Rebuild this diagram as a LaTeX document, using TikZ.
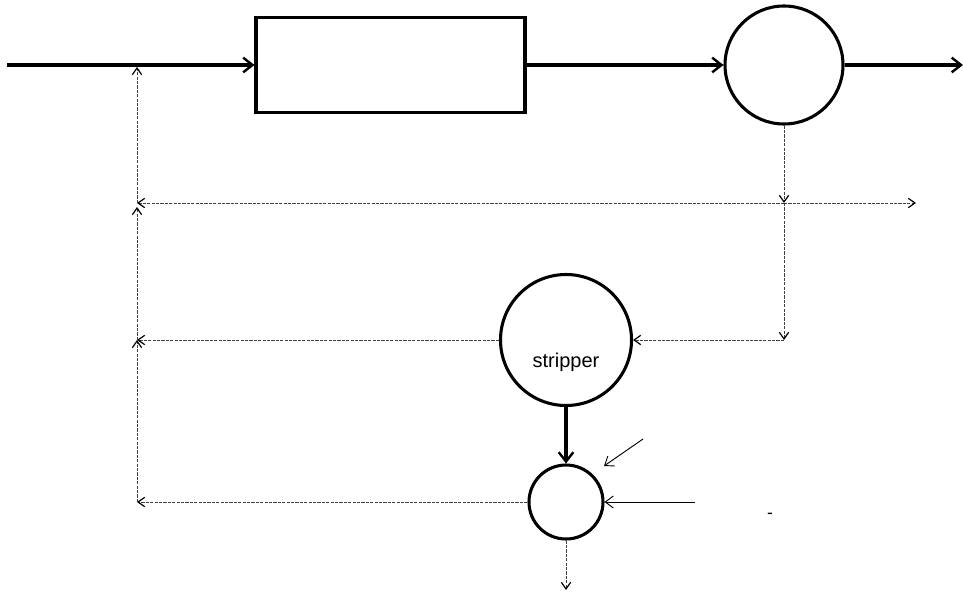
\documentclass[tikz,border=0pt]{standalone}
\usepackage{fontspec}
\setmainfont{Liberation Sans}
\usetikzlibrary{arrows.meta}
\begin{document}
\begin{tikzpicture}[x=0.75pt,y=-0.75pt,
  flow/.style={line width=2.3pt,-{Straight Barb[length=7pt,width=11pt,line width=1.8pt]}},
  thin/.style={line width=0.7pt,-{Straight Barb[length=6pt,width=9pt,line width=0.7pt]}},
  recyc/.style={line width=0.75pt,black!75,dash pattern=on 2.4pt off 0.9pt,
    -{Straight Barb[length=5pt,width=7pt,line width=0.9pt,black]}},
  unit/.style={draw,line width=2.3pt,inner sep=0pt},
  vessel/.style={draw,circle,line width=2.3pt,inner sep=0pt}]
\useasboundingbox (0,0) rectangle (963,592);

% main units
\node[unit,minimum width=269*0.75pt,minimum height=95*0.75pt] (reactor) at (390.5,65) {};
\node[vessel,minimum size=118*0.75pt] (sep) at (784,65) {};
\node[vessel,minimum size=131*0.75pt] (strip) at (566,340) {};
\node[font=\fontsize{15}{17}\selectfont] (striplabel) at (566,362) {stripper};
\node[vessel,minimum size=74*0.75pt] (mix) at (566,502) {};

% reference points of the lines
\coordinate (feed) at (7,65);
\coordinate (prod) at (963,65);
\coordinate (j0) at (137,67);
\coordinate (j1) at (137,203);
\coordinate (j1up) at (137,207);
\coordinate (j2) at (137,340);
\coordinate (j3) at (137,502);
\coordinate (s1) at (784,203);
\coordinate (s2) at (784,340);
\coordinate (purge) at (916,203);
\coordinate (feedin) at (695,502);
\coordinate (diagin) at (643,439);
\coordinate (diagend) at (604,466);
\coordinate (bottom) at (566,590);

% main flow line
\draw[flow] (feed) -- (reactor.west);
\draw[flow] (reactor.east) -- (sep.west);
\draw[flow] (sep.east) -- (prod);
\draw[flow] (strip.south) -- (mix.north);

% separator outlet lines
\draw[recyc] (sep.south) -- (s1);
\draw[recyc] (s1) -- (s2);
\draw[recyc] (s2) -- (strip.east);
\draw[recyc] (s1) -- (j1);
\draw[recyc] (s1) -- (purge);

% return lines to the feed
\draw[recyc] (strip.west) -- (j2);
\draw[recyc] (mix.west) -- (j3);
\draw[recyc] (j3) -- (j2);
\draw[recyc] (j2) -- (j1up);
\draw[recyc] (j1) -- (j0);
\draw[recyc] (mix.south) -- (bottom);

% further inputs to the mixer
\draw[thin] (feedin) -- (mix.east);
\draw[thin] (diagin) -- (diagend);

\node[font=\fontsize{13}{15}\selectfont] (minus) at (770,516) {-};
\end{tikzpicture}
\end{document}
